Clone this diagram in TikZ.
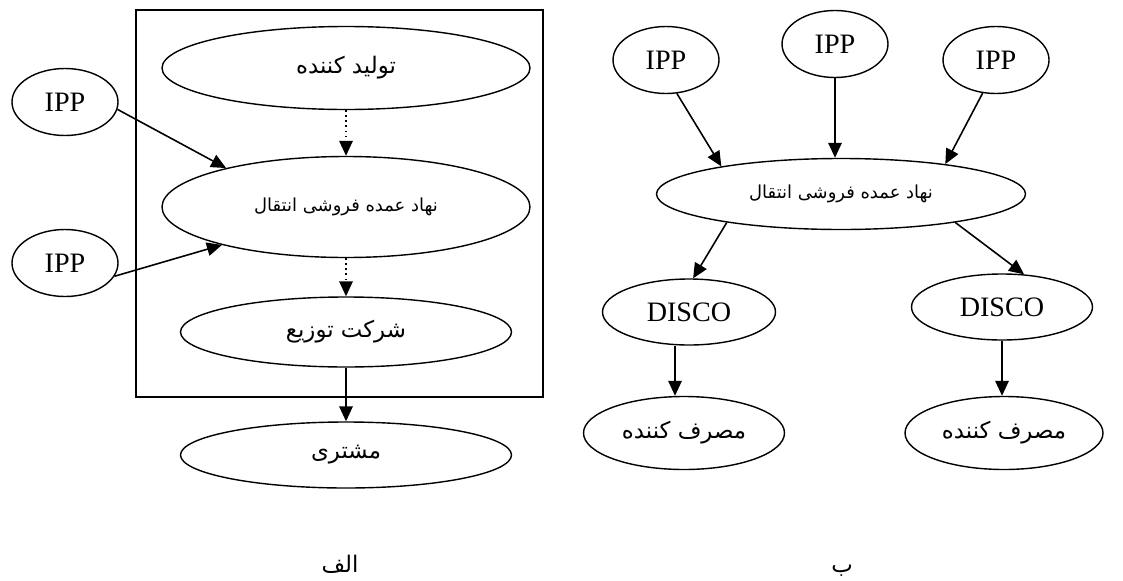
\documentclass[tikz,border=0pt]{standalone}
\usepackage{fontspec}
\setmainfont{Liberation Serif}
\newfontfamily\fa[Script=Arabic]{DejaVu Sans}
\TeXXeTstate=1
\usetikzlibrary{shapes.geometric,arrows.meta}
\newcommand{\fatext}[1]{{\fa\beginR #1\endR}}

\begin{document}
\begin{tikzpicture}[
		every node/.style={ellipse, draw, line width=0.8pt, inner sep=0pt, font=\fontsize{16}{19}\selectfont},
		ipp/.style={minimum width=2.12cm, minimum height=1.34cm},
		fa/.style={font=\fontsize{13}{16}\selectfont},
		small/.style={font=\fontsize{10.2}{12}\selectfont},
		arr/.style={-{Triangle[length=0.3cm, width=0.27cm]}, line width=0.9pt}
	]
  \useasboundingbox (0cm, 0cm) rectangle (22.46cm, -11.6cm);
  % left: chain inside the frame
  \node (frame) [rectangle, minimum width=8.14cm, minimum height=7.74cm] at (6.79cm, -4.07cm) {};
  \node (prod) [fa, minimum width=7.36cm, minimum height=1.66cm] at (6.92cm, -1.36cm) {\fatext{تولید کننده}};
  \node (whole_l) [small, minimum width=7.36cm, minimum height=2.02cm] at (6.92cm, -4.14cm) {\fatext{نهاد عمده فروشی انتقال}};
  \node (dist) [fa, minimum width=6.62cm, minimum height=1.40cm] at (6.92cm, -6.64cm) {\fatext{شرکت توزیع}};
  \node (cust) [fa, minimum width=6.62cm, minimum height=1.32cm] at (6.92cm, -9.10cm) {\fatext{مشتری}};
  \node (ipp_1) [ipp] at (1.30cm, -2.04cm) {IPP};
  \node (ipp_2) [ipp] at (1.30cm, -5.26cm) {IPP};
  \node (lbl_a) [draw=none, fa, anchor=base] at (6.80cm, -11.44cm) {\fatext{الف}};
  \draw [arr] (ipp_1.-8) -- (whole_l.162);
  \draw [arr] (ipp_2.-15) -- (whole_l.-163);
  \draw [arr, dotted] (prod) -- (whole_l);
  \draw [arr, dotted] (whole_l) -- (dist);
  \draw [arr] (dist) -- (cust);
  % right: tree
  \node (ipp_a) [ipp] at (13.32cm, -1.20cm) {IPP};
  \node (ipp_b) [ipp] at (16.70cm, -0.88cm) {IPP};
  \node (ipp_c) [ipp] at (19.92cm, -1.20cm) {IPP};
  \node (whole_r) [small, minimum width=7.38cm, minimum height=1.42cm] at (16.82cm, -3.88cm) {\fatext{نهاد عمده فروشی انتقال}};
  \node (disco_1) [minimum width=3.46cm, minimum height=1.32cm] at (13.78cm, -6.24cm) {DISCO};
  \node (disco_2) [minimum width=3.62cm, minimum height=1.32cm] at (20.04cm, -6.14cm) {DISCO};
  \node (cons_1) [fa, minimum width=4.02cm, minimum height=1.46cm] at (13.68cm, -8.66cm) {\fatext{مصرف کننده}};
  \node (cons_2) [fa, minimum width=3.96cm, minimum height=1.46cm] at (20.08cm, -8.66cm) {\fatext{مصرف کننده}};
  \node (lbl_b) [draw=none, fa, anchor=base] at (16.84cm, -11.44cm) {\fatext{ب}};
  \coordinate (d1_foot) at ([xshift=-0.28cm]disco_1.south);
  \draw [arr] (ipp_a.-72) -- (whole_r.167);
  \draw [arr] (ipp_b) -- (ipp_b |- whole_r.north);
  \draw [arr] (ipp_c.-112) -- (whole_r.16);
  \draw [arr] (whole_r.-166) -- (disco_1.83);
  \draw [arr] (whole_r.-14) -- (disco_2.56);
  \draw [arr] (d1_foot) -- (d1_foot |- cons_1.north);
  \draw [arr] (disco_2) -- (disco_2 |- cons_2.north);
\end{tikzpicture}
\end{document}
